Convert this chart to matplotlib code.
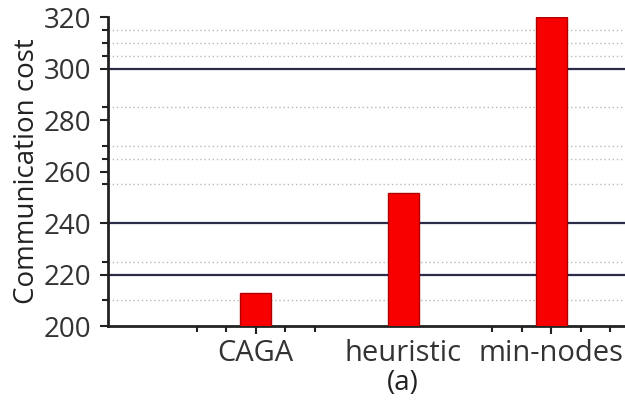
import numpy as np
import matplotlib
matplotlib.use("Agg")
import matplotlib.pyplot as plt

categories = ["CAGA", "heuristic", "min-nodes"]
cost = [212.8, 251.7, 320]
major_y = [220, 240, 300]
minor_y = [210, 225, 255, 265, 270, 285, 305, 310, 315]
yticks = [200, 220, 240, 260, 280, 300, 320]

plt.rcParams['font.family'] = ['Open Sans', 'DejaVu Sans']

fig = plt.figure(figsize=(6.25, 4.05), dpi=100)
ax = fig.add_axes([0.1728, 0.195, 0.8272, 0.763])

x = np.arange(len(categories))
ax.bar(x, cost, width=0.21, color='#f80000', edgecolor='#b00000', linewidth=1, zorder=3)

# grid lines: solid ones and dotted ones
for v in major_y:
    ax.axhline(v, color='#2b2b4a', lw=1.6, zorder=1)
for v in minor_y:
    ax.axhline(v, color='#b8b8b8', lw=1.0, ls=(0, (1, 2)), zorder=1)

ax.set_ylim(200, 320)
ax.set_xlim(-1.0, 2.5)
ax.set_yticks(yticks)
ax.set_yticks(minor_y, minor=True)
ax.set_xticks(x)
ax.set_xticklabels(categories)
ax.set_xticks([-0.4, -0.2, 0.2, 0.4, 1.6, 1.8, 2.2, 2.4], minor=True)
ax.xaxis.get_major_ticks()[1].tick1line.set_visible(False)

ax.tick_params(axis='both', which='major', labelsize=20, colors='#222222',
               labelcolor='#333333', length=6, width=1.5)
ax.tick_params(axis='both', which='minor', length=4, width=1.5, colors='#222222')
ax.tick_params(axis='x', pad=3)
ax.tick_params(axis='y', pad=6)
ax.tick_params(axis='x', which='major', labelsize=21)

for s in ['top', 'right']:
    ax.spines[s].set_visible(False)
for s in ['left', 'bottom']:
    ax.spines[s].set_linewidth(2)
    ax.spines[s].set_color('#222222')

ax.set_ylabel('Communication cost', fontsize=20, color='#222222', labelpad=2)
fig.text(0.645, 0.055, '(a)', fontsize=20, ha='center', va='center', color='#222222')

fig.savefig('out.png', dpi=100)
